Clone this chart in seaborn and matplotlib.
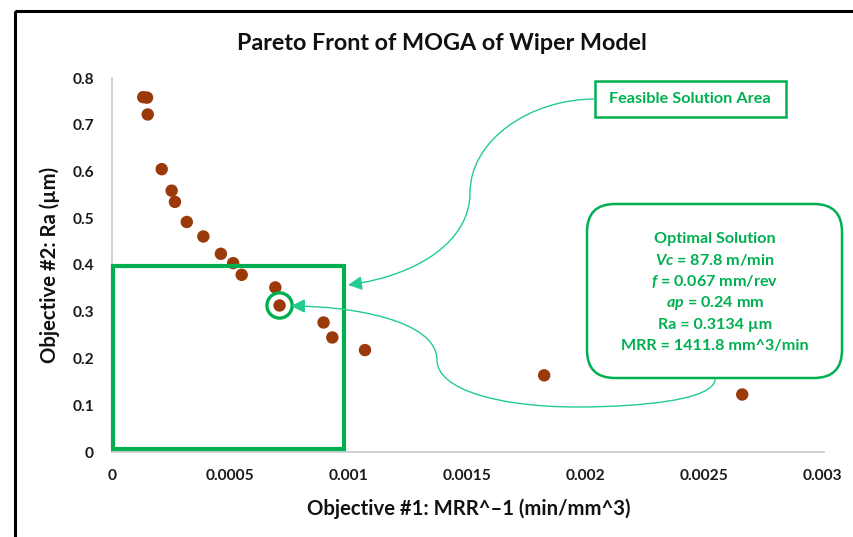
import matplotlib
matplotlib.use("Agg")
import matplotlib.pyplot as plt
import seaborn as sns
import pandas as pd
from matplotlib.patches import Rectangle, FancyBboxPatch, FancyArrowPatch, ArrowStyle
from matplotlib.path import Path
from matplotlib.transforms import Affine2D

# ---- data ----
mrr_inv = [0.000132, 0.000148, 0.000151, 0.000210, 0.000252, 0.000266, 0.000316,
           0.000386, 0.000460, 0.000512, 0.000548, 0.000690, 0.000708, 0.000894,
           0.000931, 0.001069, 0.001826, 0.002663]
ra = [0.759, 0.758, 0.722, 0.605, 0.559, 0.535, 0.492, 0.461, 0.424, 0.404,
      0.379, 0.352, 0.3134, 0.277, 0.245, 0.218, 0.164, 0.123]
opt_x = [0.000708]
opt_y = [0.3134]
feasible_x = [0.000005, 0.00098]
feasible_y = [0.006, 0.397]
x_ticks = [0, 0.0005, 0.001, 0.0015, 0.002, 0.0025, 0.003]
x_ticklabels = ["0", "0.0005", "0.001", "0.0015", "0.002", "0.0025", "0.003"]
y_ticks = [0, 0.1, 0.2, 0.3, 0.4, 0.5, 0.6, 0.7, 0.8]
y_ticklabels = ["0", "0.1", "0.2", "0.3", "0.4", "0.5", "0.6", "0.7", "0.8"]
title = "Pareto Front of MOGA of Wiper Model"
xlabel = "Objective #1: MRR^\u20131 (min/mm^3)"
ylabel = "Objective #2: Ra (\u00b5m)"
feasible_label = "Feasible Solution Area"
opt_lines = ["Optimal Solution",
             r"$\mathit{Vc}$ = 87.8 m/min",
             r"$\mathit{f}$ = 0.067 mm/rev",
             r"$\mathit{ap}$ = 0.24 mm",
             "Ra = 0.3134 \u00b5m",
             "MRR = 1411.8 mm^3/min"]

df = pd.DataFrame({"x": mrr_inv, "y": ra})

sns.set_theme(style="white")
plt.rcParams["font.family"] = ["Lato", "DejaVu Sans"]
plt.rcParams["mathtext.fontset"] = "custom"
plt.rcParams["mathtext.it"] = "Lato:bold:italic"
plt.rcParams["mathtext.rm"] = "Lato:bold"

W, H = 854, 537
fig = plt.figure(figsize=(W / 100, H / 100), dpi=100)
PX = Affine2D().scale(1, -1).translate(0, H)  # pixel coords, origin top-left

ax = fig.add_axes([112 / W, (H - 452) / H, (822 - 112) / W, (452 - 78) / H])

GREEN = "#00B050"
LINK = "#22CC90"
DOT = "#9A3A0B"

sns.scatterplot(data=df, x="x", y="y", ax=ax, color=DOT, s=80, edgecolor="none",
                zorder=3, clip_on=False)
ax.scatter(opt_x, opt_y, s=330, facecolor="none", edgecolor=GREEN, linewidth=2.4,
           zorder=4, clip_on=False)

ax.add_patch(Rectangle((feasible_x[0], feasible_y[0]), feasible_x[1] - feasible_x[0],
                       feasible_y[1] - feasible_y[0], fill=False, edgecolor=GREEN,
                       linewidth=3.0, zorder=5, clip_on=False))

ax.set_xlim(0, 0.003)
ax.set_ylim(0, 0.8)
ax.set_xticks(x_ticks)
ax.set_xticklabels(x_ticklabels)
ax.set_yticks(y_ticks)
ax.set_yticklabels(y_ticklabels)
ax.tick_params(axis="both", length=0, labelsize=11.2, colors="#1a1a1a")
ax.tick_params(axis="x", pad=12)
ax.tick_params(axis="y", pad=13)
for lab in ax.get_xticklabels() + ax.get_yticklabels():
    lab.set_fontweight("bold")
for s in ["top", "right"]:
    ax.spines[s].set_visible(False)
for s in ["left", "bottom"]:
    ax.spines[s].set_color("#C8C8C8")
    ax.spines[s].set_linewidth(1.2)
ax.spines["bottom"].set_bounds(0, 0.00301)
ax.set_xlabel("")
ax.set_ylabel("")
ax.grid(False)

fig.text(442 / W, 1 - 43 / H, title, ha="center", va="center", fontsize=16.8,
         fontweight="bold", color="#111111")
fig.text(469 / W, 1 - 509 / H, xlabel, ha="center", va="center", fontsize=14.6,
         fontweight="bold", color="#111111")
fig.text(50 / W, 1 - 265 / H, ylabel, ha="center", va="center", fontsize=14.6,
         fontweight="bold", rotation=90, color="#111111")

# outer frame (partly cropped in the reference)
fig.add_artist(Rectangle((15, 11), 1000, 1000, fill=False, edgecolor="black",
                         linewidth=2.2, transform=PX))

# feasible label box
fig.add_artist(Rectangle((595, 81), 191, 36, fill=False, edgecolor=GREEN,
                         linewidth=1.8, transform=PX))
fig.text(690 / W, 1 - 99 / H, feasible_label, ha="center", va="center",
         fontsize=11.7, fontweight="bold", color=GREEN)

# optimal solution box
fig.add_artist(FancyBboxPatch((587, 204), 255, 174,
                              boxstyle="round,pad=0,rounding_size=28",
                              fill=False, edgecolor=GREEN, linewidth=1.8,
                              transform=PX))
for i, line in enumerate(opt_lines):
    fig.text(715 / W, 1 - (238.5 + 21.5 * i) / H, line, ha="center", va="center",
             fontsize=11.6, fontweight="bold", color=GREEN)

# connectors
C = Path.CURVE4
p1 = Path([(595, 99), (530, 99), (470, 140), (470, 193),
           (470, 240), (420, 275), (348, 285)],
          [Path.MOVETO, C, C, C, C, C, C])
p2 = Path([(715, 379), (715, 400), (640, 407), (577, 407),
           (500, 407), (437, 390), (437, 360),
           (437, 320), (350, 306), (291, 306)],
          [Path.MOVETO, C, C, C, C, C, C, C, C, C])
for p in (p1, p2):
    fig.add_artist(FancyArrowPatch(path=p, transform=PX,
                                   arrowstyle=ArrowStyle("-|>", head_length=0.7, head_width=0.35),
                                   mutation_scale=12, color=LINK, linewidth=1.0))

fig.savefig("out.png", dpi=100)
